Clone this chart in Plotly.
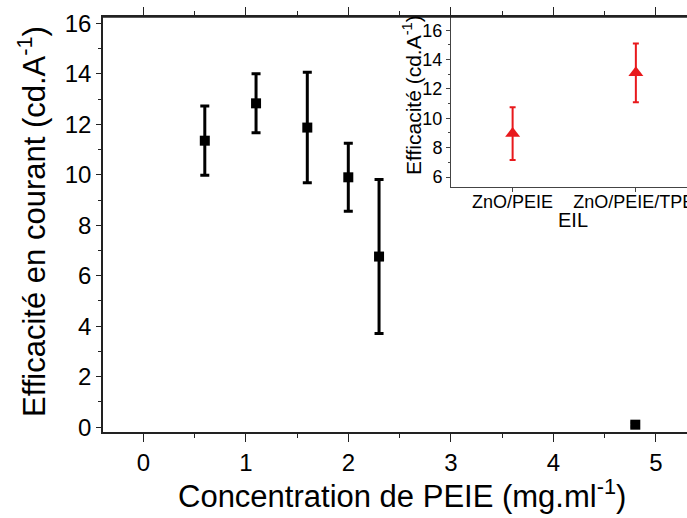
import plotly.graph_objects as go

# Main chart data
peie_conc = [0.6, 1.1, 1.6, 2.0, 2.3, 4.8]
efficacy = [11.35, 12.83, 11.87, 9.9, 6.76, 0.1]
efficacy_err = [1.37, 1.17, 2.19, 1.35, 3.05, 0.08]

# Inset data
eil_labels = ["ZnO/PEIE", "ZnO/PEIE/TPBi"]
eil_efficacy = [8.96, 13.1]
eil_err = [1.8, 2.0]

FONT = "Liberation Sans, Arial, sans-serif"
W, H = 687, 518
# plot area in window pixels
PX_L, PX_T, PX_B, PX_R = 103, 17, 432, 687
L, T, B, R = PX_L, PX_T, H - PX_B, W - PX_R
pw, ph = PX_R - PX_L, PX_B - PX_T
inset_left = 451
inset_bottom = 187
ix0 = (inset_left - PX_L) / pw
iy0 = (PX_B - inset_bottom) / ph


def px_x(p):
    return (p - PX_L) / pw


def px_y(p):
    return (PX_B - p) / ph


fig = go.Figure()

fig.add_trace(go.Scatter(
    x=peie_conc, y=efficacy, mode="markers",
    marker=dict(symbol="square", size=10, color="black"),
    error_y=dict(type="data", array=efficacy_err, visible=True,
                 color="black", thickness=3, width=4.5),
    showlegend=False, hoverinfo="x+y",
))

fig.add_trace(go.Scatter(
    x=eil_labels, y=eil_efficacy, mode="markers", xaxis="x2", yaxis="y2",
    marker=dict(symbol="triangle-up", size=13, color="#e8191c"),
    error_y=dict(type="data", array=eil_err, visible=True,
                 color="#e8191c", thickness=2, width=3),
    showlegend=False,
))

x0_px = 143.3
unit_px = 102.5
xr = [(PX_L - x0_px) / unit_px, (PX_R - x0_px) / unit_px]
fig.update_layout(
    template="none",
    width=W, height=H,
    margin=dict(l=L, r=R, t=T, b=B, pad=0),
    paper_bgcolor="white", plot_bgcolor="rgba(0,0,0,0)",
    font=dict(family=FONT, color="black"),
    showlegend=False,
    xaxis=dict(
        domain=[0, 1], range=xr, tick0=0, dtick=1, automargin=False,
        showgrid=False, zeroline=False,
        showline=True, mirror="allticks", linecolor="#222", linewidth=1.5,
        ticks="outside", ticklen=8, tickwidth=1.3, tickcolor="#222",
        minor=dict(dtick=0.5, ticks="outside", ticklen=4, tickwidth=1.3, tickcolor="#222",
                   showgrid=False),
        tickfont=dict(size=24),
    ),
    yaxis=dict(
        domain=[0, 1], range=[-0.19, 16.25], tick0=0, dtick=2, automargin=False,
        showgrid=False, zeroline=False,
        showline=True, linecolor="#222", linewidth=1.5,
        ticks="outside", ticklen=5, tickwidth=1.3, tickcolor="#222",
        minor=dict(dtick=1, ticks="outside", ticklen=3, tickwidth=1.3, tickcolor="#222",
                   showgrid=False),
        tickfont=dict(size=24),
    ),
    xaxis2=dict(
        domain=[ix0, 1], anchor="y2", type="category", automargin=False,
        range=[-0.5, 1.415],
        showgrid=False, zeroline=False,
        showline=True, linecolor="#444", linewidth=1,
        ticks="outside", ticklen=4, tickwidth=1, tickcolor="#444",
        ticklabelstandoff=-6,
        tickfont=dict(size=18),
    ),
    yaxis2=dict(
        domain=[iy0, 1], anchor="x2", range=[5.32, 16.9], tick0=6, dtick=2,
        automargin=False,
        showgrid=False, zeroline=False,
        showline=True, linecolor="#444", linewidth=1,
        ticks="outside", ticklen=4, tickwidth=1, tickcolor="#444",
        minor=dict(dtick=1, ticks="outside", ticklen=2, tickwidth=1, tickcolor="#444",
                   showgrid=False),
        tickfont=dict(size=18),
    ),
    shapes=[
        # top frame line of the main plot (shared by the inset)
        dict(type="line", xref="paper", yref="paper", x0=0, x1=1, y0=1, y1=1,
             line=dict(color="#222", width=1.5), layer="above"),
    ],
    annotations=[
        dict(text="Concentration de PEIE (mg.ml<sup>-1</sup>)", xref="paper", yref="paper",
             x=px_x(402), y=px_y(494), xanchor="center", yanchor="middle",
             showarrow=False, font=dict(size=31)),
        dict(text="Efficacité en courant (cd.A<sup>-1</sup>)", xref="paper", yref="paper",
             x=px_x(32), y=px_y(222), xanchor="center", yanchor="middle", textangle=-90,
             showarrow=False, font=dict(size=31)),
        dict(text="Efficacité (cd.A<sup>-1</sup>)", xref="paper", yref="paper",
             x=px_x(412), y=px_y(95), xanchor="center", yanchor="middle", textangle=-90,
             showarrow=False, font=dict(size=21)),
        dict(text="EIL", xref="paper", yref="paper",
             x=px_x(573), y=px_y(220), xanchor="center", yanchor="middle",
             showarrow=False, font=dict(size=20)),
    ],
)

fig.write_html(
    "out.html",
    config={"displayModeBar": False},
    post_script=(
        "document.body.style.margin='0';"
        "document.body.style.overflow='hidden';"
        "document.documentElement.style.overflow='hidden';"
    ),
)
